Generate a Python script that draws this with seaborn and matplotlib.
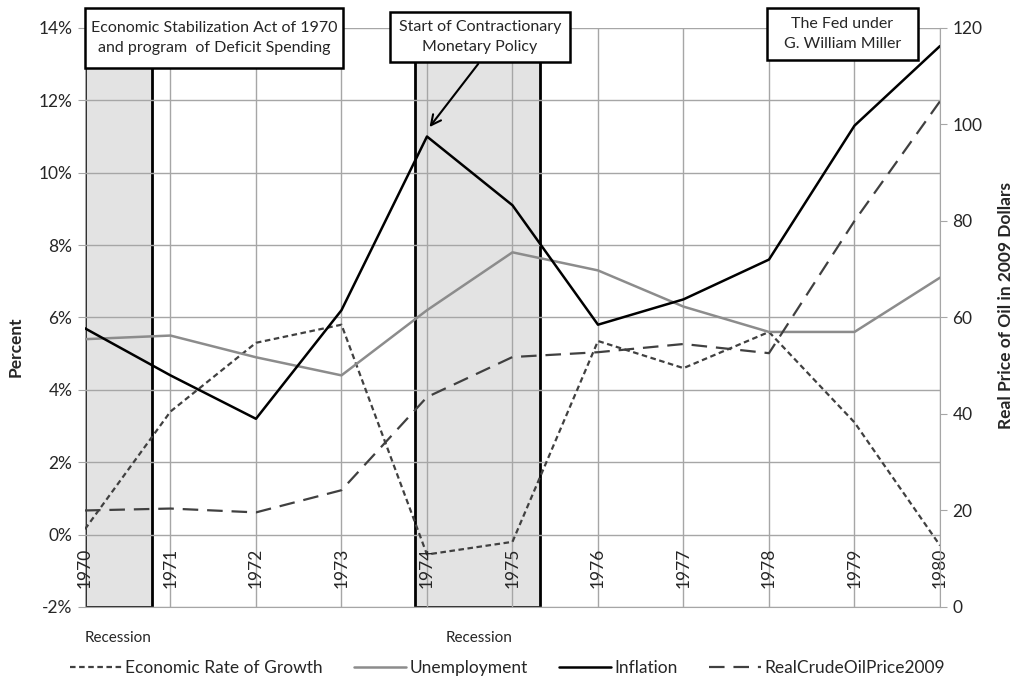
import matplotlib
matplotlib.use('Agg')
import matplotlib.pyplot as plt
import matplotlib.patches as mpatches
from matplotlib.lines import Line2D
import seaborn as sns
import pandas as pd

# --- données ---
years = [1970, 1971, 1972, 1973, 1974, 1975, 1976, 1977, 1978, 1979, 1980]
growth = [0.15, 3.4, 5.3, 5.8, -0.55, -0.2, 5.35, 4.6, 5.6, 3.1, -0.3]
unemployment = [5.4, 5.5, 4.9, 4.4, 6.2, 7.8, 7.3, 6.3, 5.6, 5.6, 7.1]
inflation = [5.7, 4.4, 3.2, 6.2, 11.0, 9.1, 5.8, 6.5, 7.6, 11.3, 13.5]
oil_price = [20.0, 20.4, 19.6, 24.2, 43.5, 51.8, 52.8, 54.5, 52.6, 80.0, 104.8]
recessions = [(1970.0, 1970.78), (1973.86, 1975.32)]

notes = ['Economic Stabilization Act of 1970\nand program  of Deficit Spending',
         'Start of Contractionary\nMonetary Policy',
         'The Fed under\nG. William Miller']

df = pd.DataFrame({'year': years, 'growth': growth, 'unemp': unemployment,
                   'infl': inflation, 'oil': oil_price})

sns.set_style('white')
plt.rcParams['font.family'] = ['Lato', 'DejaVu Sans']

W, H = 1015, 685
fig = plt.figure(figsize=(W / 100, H / 100), dpi=100)
ax = fig.add_axes([0.0837, 0.1139, 0.8424, 0.8453])
ax2 = ax.twinx()

GRID = '#a6a6a6'
FS = 12.5

# zones de récession
for x0, x1 in recessions:
    ax.add_patch(mpatches.Rectangle((x0, -2), x1 - x0, 15.1, facecolor='#e3e3e3',
                                    edgecolor='black', linewidth=2, zorder=0.3))

sns.lineplot(data=df, x='year', y='growth', ax=ax, color='#404040', linewidth=1.6, zorder=3)
ax.lines[-1].set_dashes((2.5, 1.6))
sns.lineplot(data=df, x='year', y='unemp', ax=ax, color='#8c8c8c', linewidth=1.8, zorder=3)
sns.lineplot(data=df, x='year', y='infl', ax=ax, color='black', linewidth=1.8, zorder=3)
sns.lineplot(data=df, x='year', y='oil', ax=ax2, color='#404040', linewidth=1.6, zorder=3)
ax2.lines[-1].set_dashes((7, 4))

ax.set_xlim(1970, 1980)
ax.set_ylim(-2, 14)
ax2.set_ylim(0, 120)
ax.set_yticks(range(-2, 15, 2))
ax.set_yticklabels([f'{v}%' for v in range(-2, 15, 2)], fontsize=FS)
ax2.set_yticks(range(0, 121, 20))
ax2.set_yticklabels([str(v) for v in range(0, 121, 20)], fontsize=FS)
ax.set_xticks(years)
ax.set_xticklabels([])
ax.tick_params(axis='x', length=0)
ax.tick_params(axis='y', length=5, color=GRID, direction='out', pad=4)
ax2.tick_params(axis='y', length=5, color=GRID, direction='out', pad=4)

ax.set_axisbelow(True)
ax.grid(True, color=GRID, linewidth=1)
for a in (ax, ax2):
    for s in a.spines.values():
        s.set_visible(False)
ax2.spines['right'].set_visible(True)
ax2.spines['right'].set_color(GRID)
ax.spines['bottom'].set_visible(True)
ax.spines['bottom'].set_color(GRID)

# années sur l'axe à 0 %
for y in years:
    ax.text(y, -0.35, str(y), rotation=90, ha='center', va='top', fontsize=FS, zorder=4)

ax.set_xlabel('')
ax.set_ylabel('Percent', fontsize=FS, fontweight='bold')
ax.yaxis.set_label_coords(-0.072, 0.45)
ax2.set_ylabel('Real Price of Oil in 2009 Dollars', fontsize=FS, fontweight='bold')
ax2.yaxis.set_label_coords(1.068, 0.52)

# encadrés (positions en pixels de la figure)
boxes = [(85, 8, 343, 68), (390, 12, 570, 62), (767, 8, 918, 60)]
for (x0, y0, x1, y1), txt in zip(boxes, notes):
    fig.patches.append(mpatches.Rectangle((x0 / W, 1 - y1 / H), (x1 - x0) / W, (y1 - y0) / H,
                                          transform=fig.transFigure, facecolor='white',
                                          edgecolor='black', linewidth=1.8, zorder=5))
    fig.text((x0 + x1) / 2 / W, 1 - (y0 + y1) / 2 / H, txt, ha='center', va='center',
             fontsize=11.5, linespacing=1.6, zorder=6)

ax.annotate('', xy=(1974.01, 11.2), xytext=(1974.62, 13.07),
            arrowprops=dict(arrowstyle='->', color='black', linewidth=1.5, mutation_scale=18),
            zorder=6)

ax.text(1970.0, -2.85, 'Recession', ha='left', va='center', fontsize=11)
ax.text(1974.22, -2.85, 'Recession', ha='left', va='center', fontsize=11)

handles = [
    Line2D([], [], color='#404040', linewidth=1.6, dashes=(2.5, 1.6)),
    Line2D([], [], color='#8c8c8c', linewidth=1.8),
    Line2D([], [], color='black', linewidth=1.8),
    Line2D([], [], color='#404040', linewidth=1.6, dashes=(7, 4)),
]
labels = ['Economic Rate of Growth', 'Unemployment', 'Inflation', 'RealCrudeOilPrice2009']
fig.legend(handles, labels, loc='center', bbox_to_anchor=(0.5, 0.025), ncol=4, frameon=False,
           fontsize=FS, handlelength=3, handletextpad=0.2, columnspacing=1.8)

fig.savefig('out.png', dpi=100)
